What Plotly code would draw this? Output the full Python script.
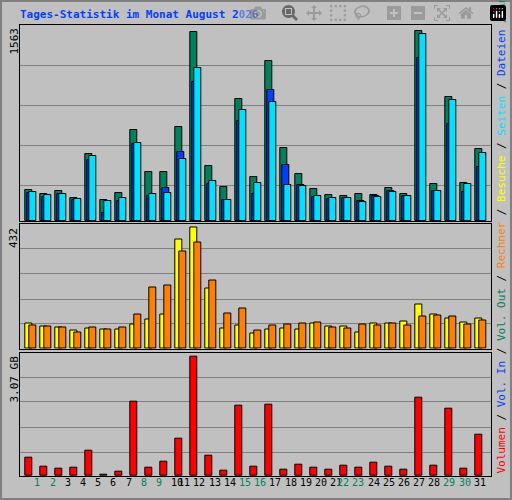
import plotly.graph_objects as go
from plotly.subplots import make_subplots

days = list(range(1, 32))
day_labels = [str(d) for d in days]
weekend = {1, 2, 8, 9, 15, 16, 22, 23, 29, 30}

anfragen = [255,222,247,189,551,173,230,749,403,403,773,1555,452,280,1004,362,1316,600,387,263,214,206,222,214,271,222,1563,304,1020,313,592]
dateien  = [228,200,222,175,502,66,167,633,206,271,568,1146,307,173,825,222,1078,461,296,197,181,189,164,206,247,206,1341,247,798,238,444]
seiten   = [238,214,222,181,537,164,189,642,222,230,510,1259,329,173,913,313,979,296,288,206,189,189,156,197,238,206,1538,247,995,304,559]
besuche  = [91,80,77,66,73,69,69,87,105,123,389,432,213,73,84,55,69,73,69,91,80,80,59,91,91,98,156,123,109,95,109]
rechner  = [84,80,77,59,77,69,77,123,217,224,346,378,242,127,145,66,84,87,91,95,77,73,87,84,91,84,116,120,113,87,102]
volumen  = [0.47,0.24,0.19,0.21,0.65,0.03,0.11,1.91,0.21,0.37,0.96,3.07,0.52,0.14,1.81,0.24,1.84,0.16,0.29,0.21,0.16,0.27,0.21,0.34,0.24,0.16,2.02,0.27,1.73,0.19,1.06]

BG = "#C0C0C0"
W = 0.49
fig = make_subplots(rows=3, cols=1, shared_xaxes=True, vertical_spacing=0.01)

def bars(vals, color, off, row):
    fig.add_trace(go.Bar(x=[d - 1 for d in days], y=vals, width=W, offset=off,
                         marker=dict(color=color, line=dict(color="black", width=1)),
                         showlegend=False), row=row, col=1)

bars(anfragen, "#00805C", 0.333, 1)
bars(dateien, "#0040FF", 0.467, 1)
bars(seiten, "#00E0FF", 0.6, 1)
bars(besuche, "#FFFF00", 0.333, 2)
bars(rechner, "#FF8000", 0.6, 2)
bars(volumen, "#FF0000", 0.333, 3)

fig.update_layout(barmode="overlay", width=512, height=500,
                  margin=dict(l=0, r=0, t=0, b=0),
                  paper_bgcolor=BG, plot_bgcolor=BG, bargap=0)

xd = [20.3 / 512, 491 / 512]
doms = [[0.558, 0.95], [0.3026, 0.553], [0.048, 0.2946]]
ranges = [[0, 1612], [0, 446], [0, 3.165]]
grids = [[288, 617, 946, 1275], [89, 177, 268, 357], [0.61, 1.25, 1.90, 2.54]]
for i in range(3):
    r = i + 1
    fig.update_yaxes(row=r, col=1, domain=doms[i], range=ranges[i], tickvals=grids[i],
                     showticklabels=False, showgrid=True, gridcolor="#808080", gridwidth=1,
                     zeroline=False, showline=True, linecolor="black", mirror=True, ticks="")
    fig.update_xaxes(row=r, col=1, domain=xd, range=[0, 31.4], showgrid=False,
                     zeroline=False, showline=True, linecolor="black", mirror=True,
                     tickvals=[], showticklabels=False)

for d in days:
    fig.add_annotation(xref="paper", yref="paper",
                       x=(20.3 + (d - 1 + 0.8) * 15.18) / 512, y=1 - 490 / 500,
                       text=day_labels[d - 1], showarrow=False,
                       font=dict(family="DejaVu Sans Mono", size=10,
                                 color="#00805C" if d in weekend else "black"))

fig.add_annotation(xref="paper", yref="paper", x=18 / 512, y=1 - 14 / 500,
                   xanchor="left", yanchor="middle", showarrow=False,
                   text="<b>Tages-Statistik im Monat August 2026</b>",
                   font=dict(family="DejaVu Sans Mono", size=11, color="#0040FF"))

for txt, ytop in [("1563", 26), ("432", 226), ("3.07 GB", 354)]:
    fig.add_annotation(xref="paper", yref="paper", x=14 / 512, y=1 - ytop / 500,
                       xanchor="center", yanchor="top", textangle=-90, showarrow=False,
                       text=txt, font=dict(family="DejaVu Sans Mono", size=11, color="black"))

parts = [("Volumen", "#FF0000"), ("Vol. In", "#0040FF"), ("Vol. Out", "#00805C"),
         ("Rechner", "#FF8000"), ("Besuche", "#FFFF00"), ("Seiten", "#00E0FF"),
         ("Dateien", "#0040FF"), ("Anfragen", "#00805C")]
legend = " / ".join(f"<span style='color:{c}'>{t}</span>" for t, c in parts)
fig.add_annotation(xref="paper", yref="paper", x=501 / 512, y=1 - 476 / 500,
                   xanchor="center", yanchor="bottom", textangle=-90, showarrow=False,
                   text=legend, font=dict(family="DejaVu Sans Mono", size=11, color="black"))

fig.add_shape(type="rect", xref="paper", yref="paper", x0=0.002, y0=0.002, x1=0.998, y1=0.998,
              line=dict(color="#808080", width=2))

fig.write_html("out.html")
with open("out.html", encoding="utf-8") as f:
    html = f.read()
html = html.replace("<head>", "<head><style>html,body{margin:0;padding:0;overflow:hidden}</style>", 1)
with open("out.html", "w", encoding="utf-8") as f:
    f.write(html)
